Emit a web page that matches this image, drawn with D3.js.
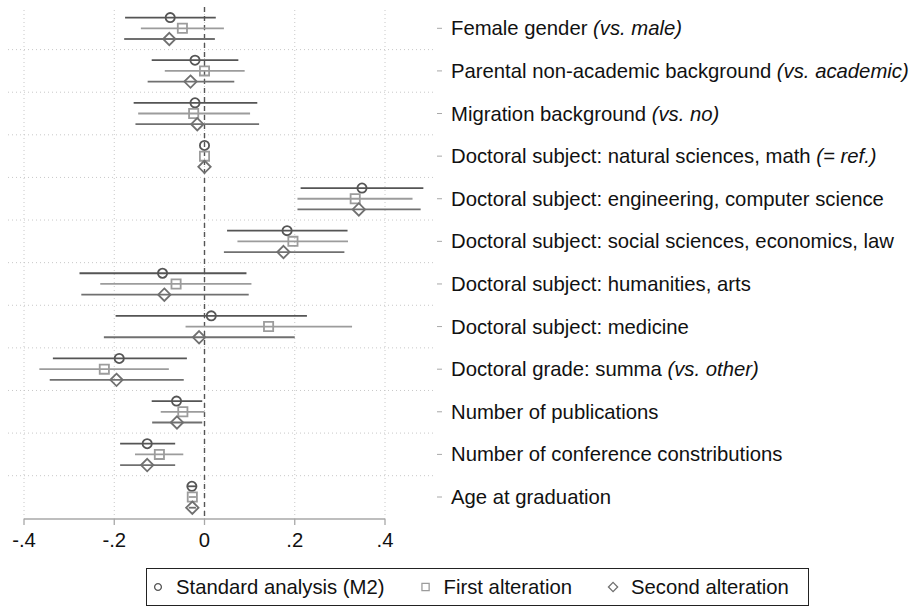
<!DOCTYPE html>
<html>
<head>
<meta charset="utf-8">
<script src="https://cdn.jsdelivr.net/npm/d3@7"></script>
<style>
  html, body { margin: 0; padding: 0; background: #fff; }
  svg { display: block; font-family: "Liberation Sans", Arial, sans-serif; }
</style>
</head>
<body>
<svg id="chart" width="922" height="607"></svg>
<script>
// ---- data ----
const categories = [
  "Female gender", "Parental non-academic background", "Migration background",
  "Doctoral subject: natural sciences, math", "Doctoral subject: engineering, computer science",
  "Doctoral subject: social sciences, economics, law", "Doctoral subject: humanities, arts",
  "Doctoral subject: medicine", "Doctoral grade: summa", "Number of publications",
  "Number of conference constributions", "Age at graduation"
];
const categoryNotes = [
  "(vs. male)", "(vs. academic)", "(vs. no)", "(= ref.)", "", "", "", "",
  "(vs. other)", "", "", ""
];
const seriesNames = ["Standard analysis (M2)", "First alteration", "Second alteration"];

const standardEst = [-0.076, -0.021, -0.021, 0, 0.349, 0.183, -0.093, 0.015, -0.189, -0.062, -0.127, -0.028];
const standardLo  = [-0.176, -0.117, -0.157, 0, 0.213, 0.050, -0.277, -0.197, -0.336, -0.117, -0.187, -0.038];
const standardHi  = [ 0.025,  0.075,  0.117, 0, 0.485, 0.317,  0.093,  0.227, -0.039, -0.005, -0.065, -0.018];

const firstEst = [-0.049, 0.000, -0.024, 0, 0.334, 0.196, -0.063, 0.142, -0.222, -0.048, -0.100, -0.027];
const firstLo  = [-0.141, -0.088, -0.147, 0, 0.206, 0.073, -0.231, -0.042, -0.366, -0.097, -0.154, -0.035];
const firstHi  = [ 0.043,  0.089,  0.101, 0, 0.461, 0.318,  0.104,  0.327, -0.079,  0.000, -0.047, -0.019];

const secondEst = [-0.078, -0.031, -0.016, 0, 0.342, 0.175, -0.089, -0.012, -0.195, -0.061, -0.127, -0.027];
const secondLo  = [-0.178, -0.126, -0.153, 0, 0.206, 0.043, -0.273, -0.223, -0.343, -0.116, -0.187, -0.035];
const secondHi  = [ 0.023,  0.066,  0.121, 0, 0.479, 0.310,  0.098,  0.200, -0.046, -0.005, -0.065, -0.019];

const xTicks = [-0.4, -0.2, 0, 0.2, 0.4];
const xTickLabels = ["-.4", "-.2", "0", ".2", ".4"];

// ---- build ----
const series = [
  { name: seriesNames[0], est: standardEst, lo: standardLo, hi: standardHi, shape: "circle",  color: "#555555", off: -10.7 },
  { name: seriesNames[1], est: firstEst,    lo: firstLo,    hi: firstHi,    shape: "square",  color: "#9c9c9c", off: 0 },
  { name: seriesNames[2], est: secondEst,   lo: secondLo,   hi: secondHi,   shape: "diamond", color: "#707070", off: 10.7 }
];

function markerPath(shape, r) {
  if (shape === "circle") return d3.symbol().type(d3.symbolCircle).size(Math.PI * r * r)();
  if (shape === "square") return d3.symbol().type(d3.symbolSquare).size(4 * r * r)();
  return `M0,${-r}L${r},0L0,${r}L${-r},0Z`;
}

const FS = 20.3;
const svg = d3.select("#chart");
const x = d3.scaleLinear().domain([-0.4, 0.4]).range([24, 385]);
const y = d3.scalePoint().domain(categories).range([28.3, 497]);
const step = y.step();
const plotTop = 7, plotBottom = 519, plotLeft = 8, plotRight = 436;

// vertical grid
svg.append("g").selectAll("line").data(xTicks).join("line")
  .attr("x1", d => x(d)).attr("x2", d => x(d))
  .attr("y1", plotTop + 3).attr("y2", plotBottom)
  .attr("stroke", "#c8c8c8").attr("stroke-width", 1).attr("stroke-dasharray", "1,3");

// horizontal grid between rows
svg.append("g").selectAll("line").data(categories.slice(0, -1)).join("line")
  .attr("x1", plotLeft).attr("x2", plotRight)
  .attr("y1", d => y(d) + step / 2).attr("y2", d => y(d) + step / 2)
  .attr("stroke", "#c8c8c8").attr("stroke-width", 1).attr("stroke-dasharray", "1,3");

// zero line
svg.append("line")
  .attr("x1", x(0)).attr("x2", x(0)).attr("y1", plotTop).attr("y2", plotBottom)
  .attr("stroke", "#555").attr("stroke-width", 1.4).attr("stroke-dasharray", "5,4");

// CIs and markers
series.forEach(s => {
  const g = svg.append("g");
  const idx = d3.range(categories.length);
  g.selectAll("line").data(idx).join("line")
    .attr("x1", i => x(s.lo[i])).attr("x2", i => x(s.hi[i]))
    .attr("y1", i => y(categories[i]) + s.off).attr("y2", i => y(categories[i]) + s.off)
    .attr("stroke", s.color).attr("stroke-width", 1.8);
  const r = s.shape === "circle" ? 4.6 : s.shape === "square" ? 4.6 : 6.2;
  g.selectAll("path").data(idx).join("path")
    .attr("d", markerPath(s.shape, r))
    .attr("transform", i => `translate(${x(s.est[i])},${y(categories[i]) + s.off})`)
    .attr("fill", "none").attr("stroke", s.color).attr("stroke-width", 1.8);
});

// bottom axis
const axisG = svg.append("g").attr("transform", `translate(0,${plotBottom})`);
axisG.append("line").attr("x1", x(-0.4)).attr("x2", x(0.4)).attr("y1", 0).attr("y2", 0)
  .attr("stroke", "#a8a8a8").attr("stroke-width", 1.5);
axisG.selectAll("line.t").data(xTicks).join("line").attr("class", "t")
  .attr("x1", d => x(d)).attr("x2", d => x(d)).attr("y1", 0).attr("y2", 6)
  .attr("stroke", "#a8a8a8").attr("stroke-width", 1.3);
axisG.selectAll("text").data(xTicks).join("text")
  .attr("x", d => x(d)).attr("y", 28)
  .attr("text-anchor", "middle").attr("font-size", FS).attr("fill", "#111")
  .text((d, i) => xTickLabels[i]);

// right labels
const lab = svg.append("g");
lab.selectAll("line").data(categories).join("line")
  .attr("x1", 437).attr("x2", 442).attr("y1", d => y(d)).attr("y2", d => y(d))
  .attr("stroke", "#a8a8a8").attr("stroke-width", 1);
const txt = lab.selectAll("text").data(categories).join("text")
  .attr("x", 451).attr("y", d => y(d)).attr("dy", "0.35em")
  .attr("font-size", FS).attr("fill", "#111");
txt.append("tspan").text(d => d);
txt.append("tspan").attr("font-style", "italic")
  .text((d, i) => categoryNotes[i] ? " " + categoryNotes[i] : "");

// legend
const leg = svg.append("g");
leg.append("rect").attr("x", 146.5).attr("y", 568.5).attr("width", 662).attr("height", 37)
  .attr("fill", "#fff").attr("stroke", "#222").attr("stroke-width", 1);
const legItems = [
  { s: series[0], r: 3.4 },
  { s: series[1], r: 3.6 },
  { s: series[2], r: 4.6 }
];
let cursor = 158;
legItems.forEach(it => {
  const mx = cursor;
  leg.append("path").attr("d", markerPath(it.s.shape, it.r))
    .attr("transform", `translate(${mx},587)`)
    .attr("fill", "none").attr("stroke", it.s.color).attr("stroke-width", 1.3);
  const t = leg.append("text").attr("x", mx + 18).attr("y", 587).attr("dy", "0.35em")
    .attr("font-size", FS).attr("fill", "#111").text(it.s.name);
  cursor = mx + 18 + t.node().getComputedTextLength() + 41;
});
</script>
</body>
</html>
